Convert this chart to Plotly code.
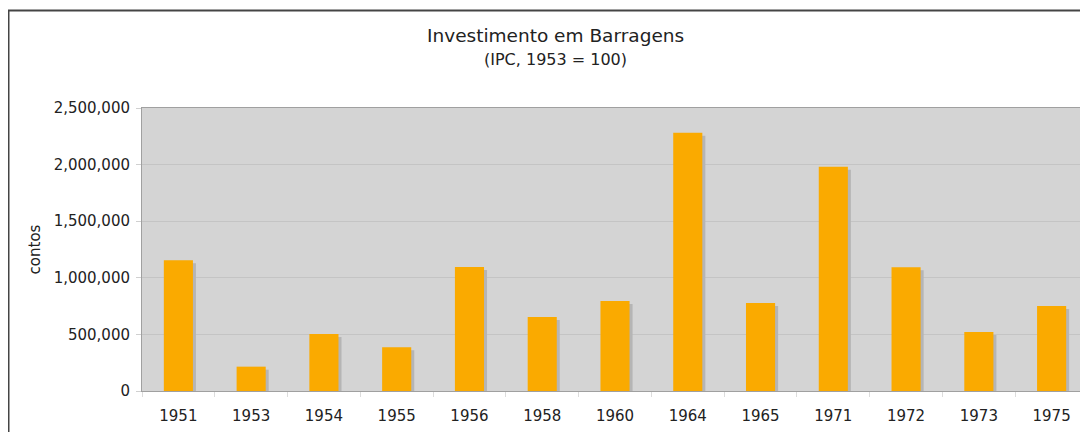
import plotly.graph_objects as go

years = ["1951", "1953", "1954", "1955", "1956", "1958", "1960", "1964", "1965", "1971", "1972", "1973", "1975"]
values = [1155000, 215000, 503000, 386000, 1095000, 654000, 795000, 2282000, 777000, 1981000, 1093000, 521000, 751000]
y_ticks = [0, 500000, 1000000, 1500000, 2000000, 2500000]
y_tick_labels = ["0", "500,000", "1,000,000", "1,500,000", "2,000,000", "2,500,000"]

# page body has an 8px margin; figure coordinates below are relative to the figure
W, H = 1080, 424
ML, MR, MT, MB = 134, 0, 100, 41
plot_h = H - MT - MB
plot_w = W - ML - MR
ymax = 2500000
px_val = ymax / plot_h
cat_px = plot_w / len(years)

bar_w = 0.4
shadow_dx = 3 / cat_px
shadow_dy = 3 * px_val
shadow_vals = [max(v - shadow_dy, 0) for v in values]

font = "DejaVu Sans, Verdana, sans-serif"


def px_x(x):
    return (x - ML) / plot_w


def px_y(y):
    return (H - MB - y) / plot_h


fig = go.Figure()
fig.add_trace(go.Bar(x=years, y=shadow_vals, width=bar_w, offset=-bar_w / 2 + shadow_dx,
                     marker=dict(color="#b5b5b5", line=dict(width=0)), hoverinfo="skip", showlegend=False))
fig.add_trace(go.Bar(x=years, y=values, width=bar_w, offset=-bar_w / 2,
                     marker=dict(color="#FAAA00", line=dict(width=0)), showlegend=False))

fig.update_layout(
    width=W, height=H,
    margin=dict(l=ML, r=MR, t=MT, b=MB),
    barmode="overlay",
    paper_bgcolor="white",
    plot_bgcolor="#D4D4D4",
    font=dict(family=font, size=15, color="#222222"),
)

fig.add_annotation(text="Investimento em Barragens", x=px_x(547), y=px_y(28), xref="paper", yref="paper",
                   showarrow=False, font=dict(size=18.5, color="#222222"), xanchor="center", yanchor="middle")
fig.add_annotation(text="(IPC, 1953 = 100)", x=px_x(547), y=px_y(52), xref="paper", yref="paper",
                   showarrow=False, font=dict(size=16, color="#222222"), xanchor="center", yanchor="middle")

fig.update_xaxes(
    type="category", showgrid=False, ticks="outside", tickson="boundaries", ticklen=5,
    tickcolor="#dcdcdc", showline=True, linecolor="#a0a0a0", linewidth=1,
    tickfont=dict(size=15, color="#222222"), mirror=True, ticklabelstandoff=11,
)
fig.update_yaxes(
    range=[0, ymax], tickvals=y_ticks, ticktext=y_tick_labels, showgrid=True,
    gridcolor="#c4c4c4", gridwidth=1, ticks="outside", ticklen=5, tickcolor="#d0d0d0",
    showline=True, linecolor="#a0a0a0", linewidth=1, mirror=True, zeroline=False,
    title=dict(text="contos", font=dict(size=15, color="#222222"), standoff=9),
    tickfont=dict(size=15, color="#222222"), ticklabelstandoff=3,
)

fig.add_shape(type="rect", xref="paper", yref="paper",
              x0=px_x(0.5), x1=px_x(W + 20), y0=px_y(H + 20), y1=px_y(2.5),
              line=dict(color="#444444", width=2), fillcolor="rgba(0,0,0,0)", layer="above")

fig.write_html("out.html")
